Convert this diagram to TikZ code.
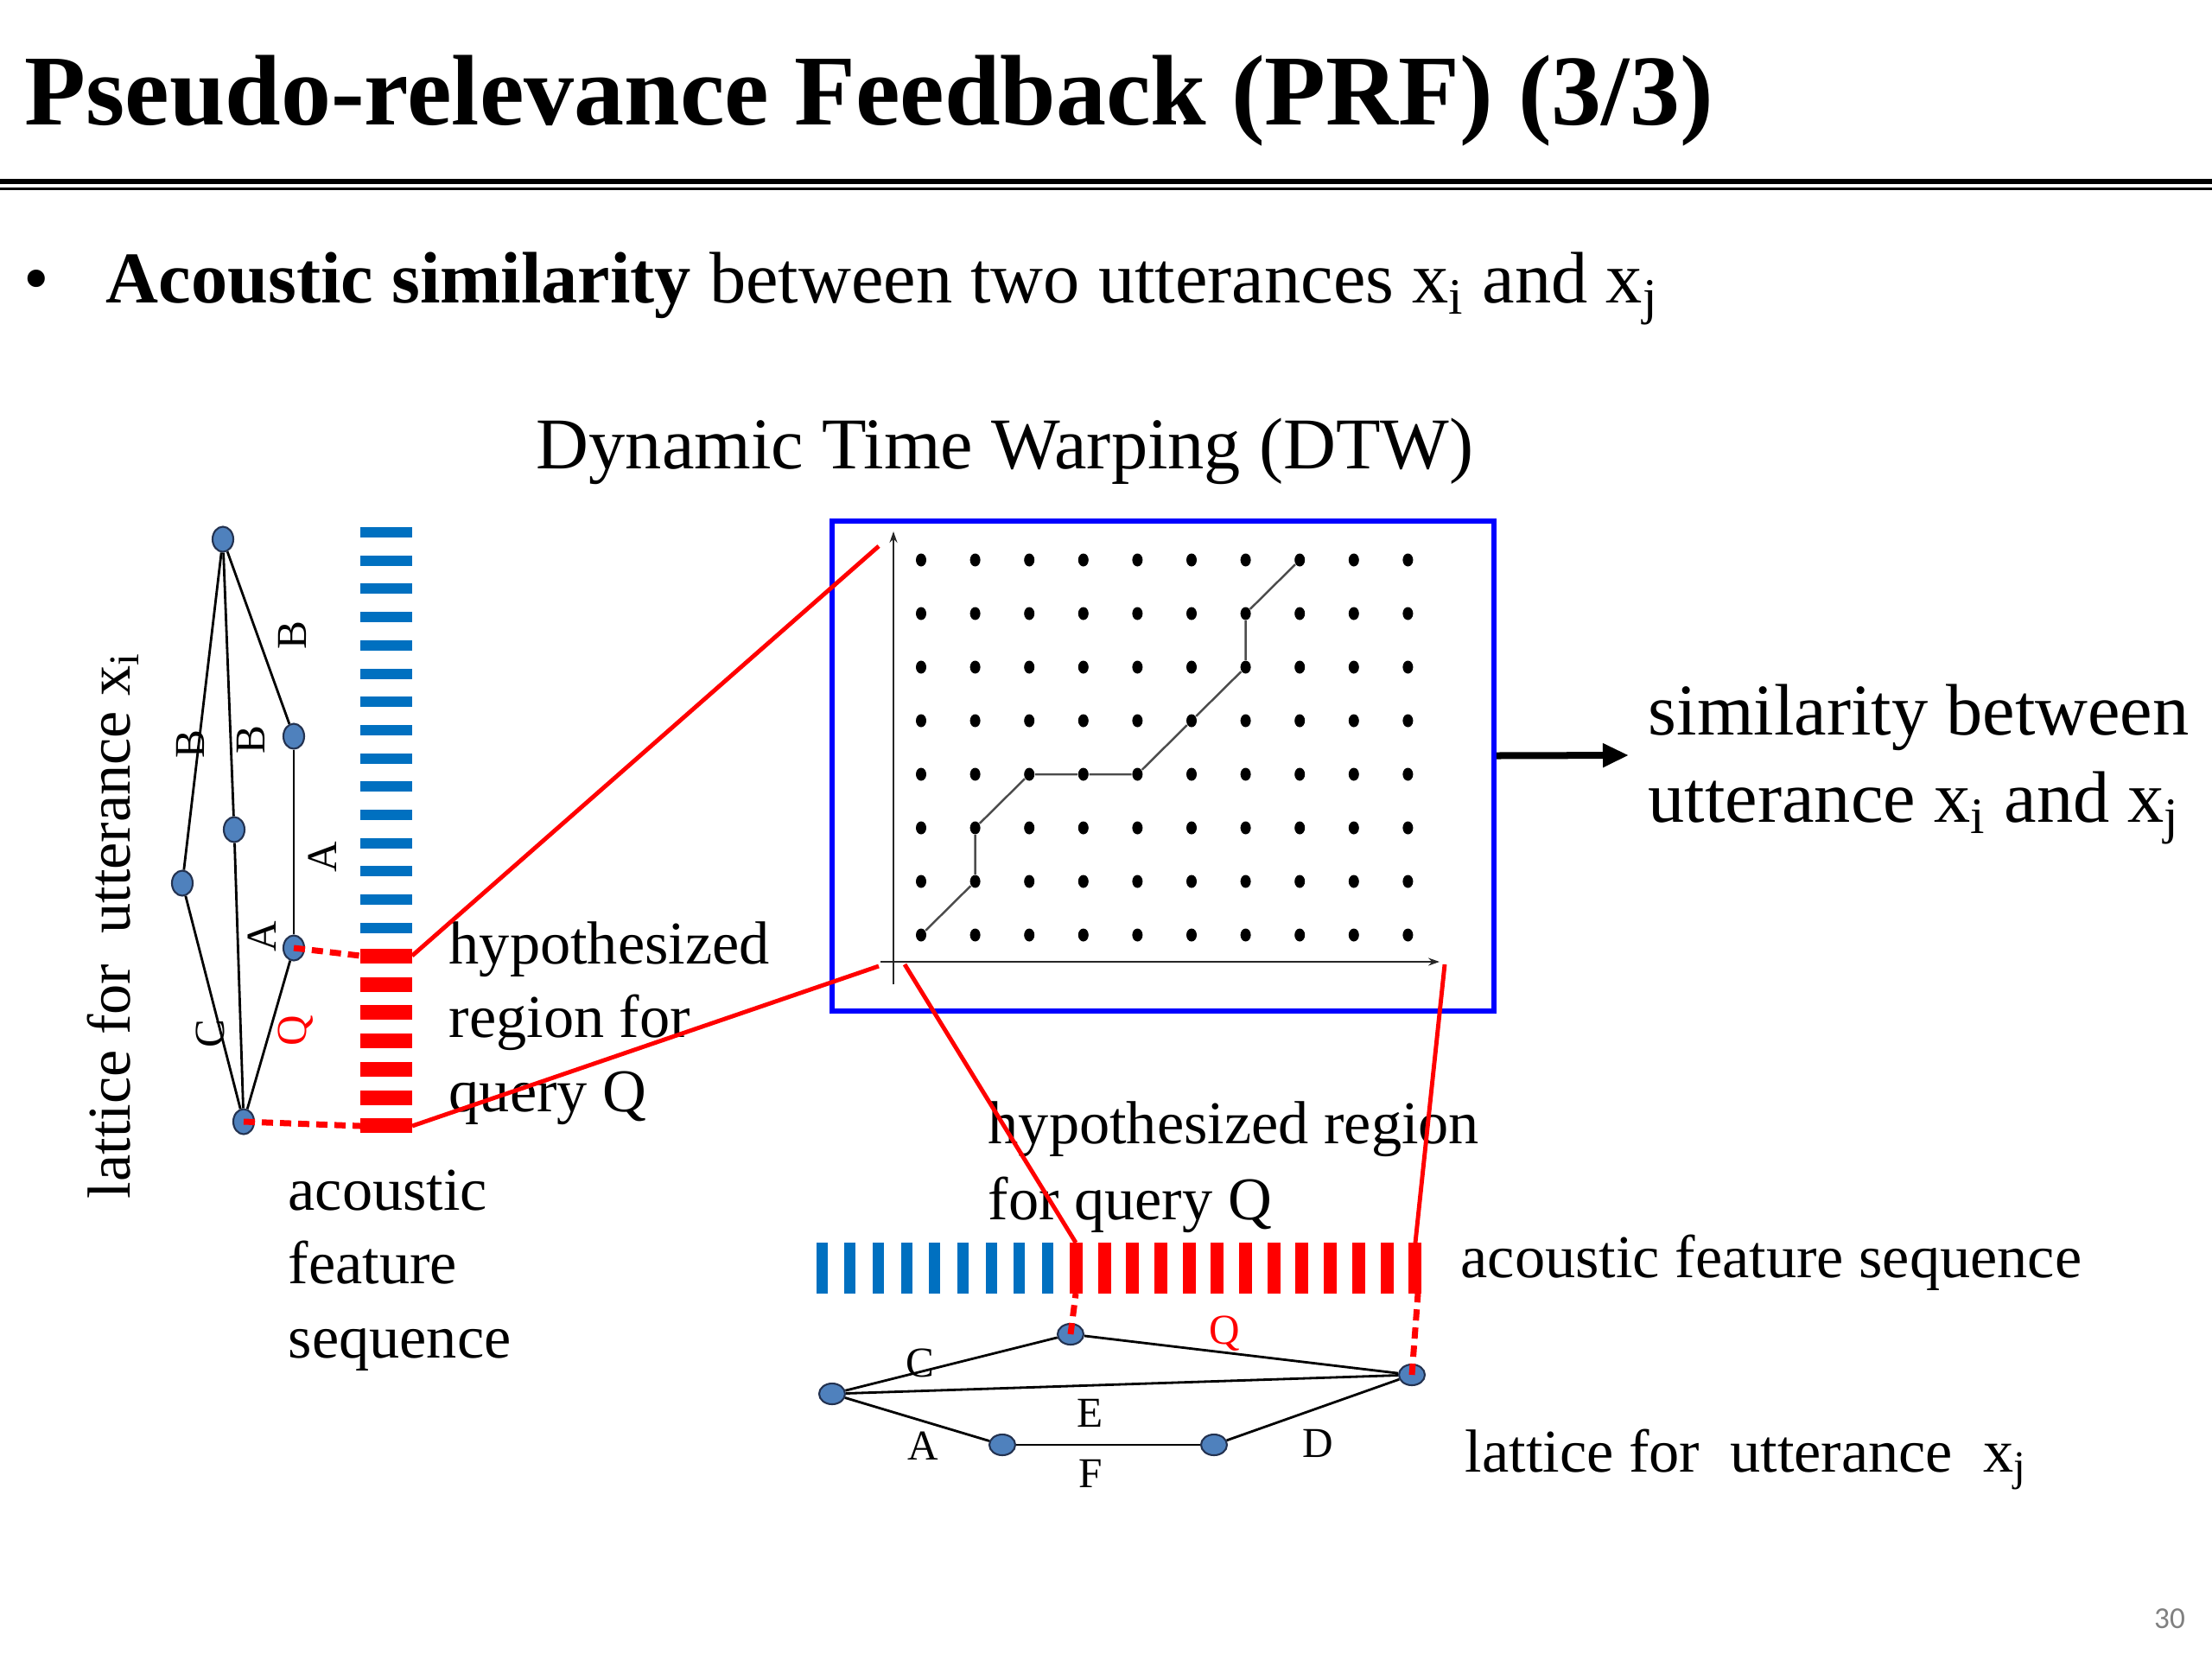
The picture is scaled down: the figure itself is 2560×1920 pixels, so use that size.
\documentclass[tikz,border=0pt]{standalone}
\usepackage{fontspec}
\setmainfont{Liberation Serif}
\newfontfamily\pagenumfont{Carlito}
\usetikzlibrary{arrows.meta, shapes.geometric}
\definecolor{latblue}{RGB}{79,129,189}
\definecolor{latline}{RGB}{35,50,80}
\definecolor{seqblue}{RGB}{0,112,192}

\begin{document}
\begin{tikzpicture}[
    x=0.01cm, y=-0.01cm,
    every node/.style={inner sep=0pt},
    every edge/.style={draw, line width=0.8pt},
    lat/.style={ellipse, draw=latline, fill=latblue, line width=0.6pt},
    latv/.style={lat, minimum width=0.24cm, minimum height=0.29cm},
    lath/.style={lat, minimum width=0.30cm, minimum height=0.24cm},
    elbl/.style={font=\fontsize{14}{16}\selectfont},
    dtwdot/.style={ellipse, fill=black, minimum width=0.12cm, minimum height=0.15cm},
    warp/.style={draw=black!70, line width=0.7pt},
    axis/.style={draw=black!85, line width=0.6pt, -{Stealth[length=0.13cm, width=0.09cm]}},
    hyp/.style={draw=red, line width=1.4pt},
    link/.style={draw=red, line width=0.07cm, dash pattern=on 0.13cm off 0.08cm},
    txt/.style={anchor=base west, align=left, font=\fontsize{20}{24.2}\selectfont},
    big/.style={font=\fontsize{24}{28.5}\selectfont}
]
\useasboundingbox (0,0) rectangle (2560,1920);

% Heading
\node[anchor=base west, font=\fontsize{33}{40}\selectfont\bfseries] (title) at (28,144) {Pseudo-relevance Feedback (PRF) (3/3)};
\draw[line width=0.06cm] (0,210) -- (2560,210);
\draw[line width=0.03cm] (0,218.5) -- (2560,218.5);
\node[anchor=base west, big] (bullet) at (27,350) {\textbullet};
\node[anchor=base west, big] (point) at (122,350) {\textbf{Acoustic similarity} between two utterances x\textsubscript{i} and x\textsubscript{j}};
\node[anchor=base west, big] (dtwtitle) at (620,542) {Dynamic Time Warping (DTW)};

% DTW grid
\node[draw=blue, line width=0.055cm, minimum width=7.66cm, minimum height=5.67cm] (dtwbox) at (1346,886.5) {};
\coordinate (yaxb) at (1034,1139);
\coordinate (yaxt) at (1034,615);
\coordinate (xaxl) at (1019,1113);
\coordinate (xaxr) at (1666,1113);
\draw[axis] (yaxb) -- (yaxt);
\draw[axis] (xaxl) -- (xaxr);
\foreach \col in {0,...,9}
  \foreach \row in {0,...,7}
    \node[dtwdot] (d\col\row) at ({1066+62.6*\col},{1082-62*\row}) {};
\draw[warp] (d00) -- (d11) -- (d12) -- (d23) -- (d33) -- (d43) -- (d54) -- (d65) -- (d66) -- (d77);

% Output
\coordinate (simend) at (1885,874);
\draw[line width=0.08cm, -{Triangle[length=0.3cm, width=0.26cm]}] ([yshift=0.12cm]dtwbox.east) -- (simend);
\node[txt, big] (simtxt) at (1907,951) {similarity between\\utterance x\textsubscript{i} and x\textsubscript{j}};

% Feature sequences
\foreach \k in {0,...,14}
  \draw[seqblue, line width=0.12cm] (417,{616+32.7*\k}) -- (477,{616+32.7*\k});
\foreach \k in {15,...,21}
  \draw[red, line width=0.17cm] (417,{616+32.7*\k}) -- (477,{616+32.7*\k});
\foreach \k in {0,...,8}
  \draw[seqblue, line width=0.13cm] ({951+32.7*\k},1438) -- ({951+32.7*\k},1497);
\foreach \k in {9,...,21}
  \draw[red, line width=0.15cm] ({951+32.7*\k},1438) -- ({951+32.7*\k},1497);
\coordinate (lqtop) at (477,1106);
\coordinate (lqbot) at (477,1303);
\coordinate (lqtopin) at (417,1106);
\coordinate (lqbotin) at (417,1303);
\coordinate (bqleft) at (1245,1438);
\coordinate (bqright) at (1638,1438);
\coordinate (bqleftb) at (1245,1497);
\coordinate (bqrightb) at (1641,1497);
\coordinate (ytop) at (1017,632);
\coordinate (ybot) at (1017,1118);
\coordinate (xleft) at (1047,1116);
\coordinate (xright) at (1672,1116);

% Lattice for x_i
\node[latv] (lt) at (258,624) {};
\node[latv] (l2) at (340,852) {};
\node[latv] (l3) at (271,960) {};
\node[latv] (l4) at (211,1022) {};
\node[latv] (l5) at (340,1097) {};
\node[latv] (lb) at (282,1298) {};
\path (lt) edge (l4) (lt) edge (l3) (lt) edge (l2)
      (l4) edge (lb) (l3) edge (lb) (l2) edge (l5) (l5) edge (lb);
\node[elbl, rotate=90] (lbl1) at (220,861) {B};
\node[elbl, rotate=90] (lbl2) at (290,856) {B};
\node[elbl, rotate=90] (lbl3) at (338,735) {B};
\node[elbl, rotate=90] (lbl4) at (373,992) {A};
\node[elbl, rotate=90] (lbl5) at (303,1084) {A};
\node[elbl, rotate=90] (lbl6) at (243,1196) {C};
\node[elbl, rotate=90, text=red] (lbl7) at (342,1193) {Q};
\node[txt, rotate=90] (lati) at (150,1388) {lattice for\ \ utterance x\textsubscript{i}};

% Lattice for x_j
\node[lath] (bl) at (963,1613) {};
\node[lath] (bu) at (1239,1544) {};
\node[lath] (br) at (1634,1591) {};
\node[lath] (ba) at (1160,1672) {};
\node[lath] (bb) at (1405,1672) {};
\path (bl) edge (bu) (bu) edge (br) (bl) edge (br)
      (bl) edge (ba) (ba) edge (bb) (bb) edge (br);
\node[elbl] (blb1) at (1065,1577) {C};
\node[elbl, text=red] (blb2) at (1417,1543) {Q};
\node[elbl] (blb3) at (1262,1635) {E};
\node[elbl] (blb4) at (1068,1673) {A};
\node[elbl] (blb5) at (1262,1705) {F};
\node[elbl] (blb6) at (1525,1670) {D};

% Texts (base = last line)
\node[txt] (hypi) at (519,1286) {hypothesized\\region for\\query Q};
\node[txt] (seqi) at (333,1571) {acoustic\\feature\\sequence};
\node[txt, font=\fontsize{20}{25}\selectfont] (hypj) at (1143,1411) {hypothesized region\\for query Q};
\node[txt] (seqj) at (1690,1478) {acoustic feature sequence};
\node[txt] (latj) at (1695,1703) {lattice for\ \ utterance\ \ x\textsubscript{j}};

% Query region links
\draw[link] (l5.center) -- (lqtopin);
\draw[link] (lb.center) -- (lqbotin);
\draw[link] (bu.center) -- (bqleftb);
\draw[link] (br.center) -- (bqrightb);
\draw[hyp] (lqtop) -- (ytop);
\draw[hyp] (lqbot) -- (ybot);
\draw[hyp] (xleft) -- (bqleft);
\draw[hyp] (xright) -- (bqright);

\node[font=\pagenumfont\fontsize{10}{12}\selectfont, text=gray] (pnum) at (2511,1873) {30};
\end{tikzpicture}
\end{document}
